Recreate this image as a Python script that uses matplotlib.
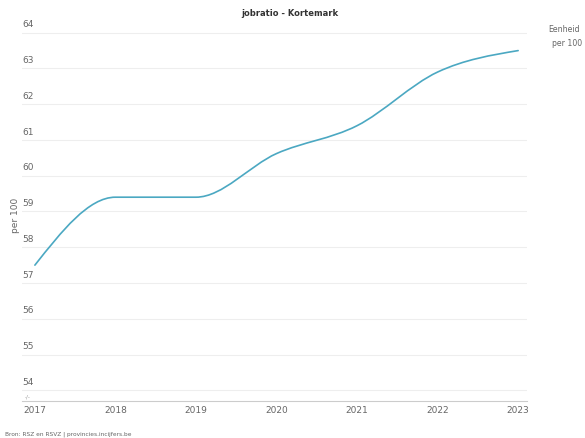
import matplotlib.pyplot as plt
import numpy as np
from matplotlib.path import Path
from matplotlib.patches import PathPatch

# data
years = [2017, 2018, 2019, 2020, 2021, 2022, 2023]
jobratio = [57.5, 59.4, 59.4, 60.62, 61.4, 62.9, 63.5]
y_ticks = [54, 55, 56, 57, 58, 59, 60, 61, 62, 63, 64]

line_color = "#4ba8c2"
grey = "#666666"


def monotone_path(x, y):
    # monotone cubic (d3 curveMonotoneX style) as bezier segments
    x = np.asarray(x, float)
    y = np.asarray(y, float)
    n = len(x)
    h = np.diff(x)
    s = np.diff(y) / h
    t = np.zeros(n)
    for i in range(1, n - 1):
        p = (s[i - 1] * h[i] + s[i] * h[i - 1]) / (h[i - 1] + h[i])
        t[i] = (np.sign(s[i - 1]) + np.sign(s[i])) * min(abs(s[i - 1]), abs(s[i]), 0.5 * abs(p))
    t[0] = (3 * s[0] - t[1]) / 2
    t[-1] = (3 * s[-1] - t[-2]) / 2
    verts = [(x[0], y[0])]
    codes = [Path.MOVETO]
    for i in range(n - 1):
        dx = h[i] / 3
        verts += [(x[i] + dx, y[i] + dx * t[i]), (x[i + 1] - dx, y[i + 1] - dx * t[i + 1]), (x[i + 1], y[i + 1])]
        codes += [Path.CURVE4] * 3
    return Path(verts, codes)


fig = plt.figure(figsize=(5.85, 4.39), dpi=100)
ax = fig.add_axes([22 / 585, 1 - 402 / 439, 505 / 585, 369 / 439])

ax.add_patch(PathPatch(monotone_path(years, jobratio), facecolor="none",
                       edgecolor=line_color, linewidth=1.2, capstyle="round"))

ax.set_xlim(2016.84, 2023.11)
ax.set_ylim(53.7, 64.02)

for v in y_ticks:
    ax.axhline(v, color="#eeeeee", linewidth=0.8, zorder=0)
    ax.text(0.0, v + 0.12, str(v), transform=ax.get_yaxis_transform(),
            fontsize=6.5, color=grey, ha="left", va="bottom")

ax.set_yticks([])
ax.set_xticks(years)
ax.set_xticklabels([str(y) for y in years], fontsize=6.5, color=grey)
ax.tick_params(axis="x", length=0, pad=3)

for side in ["top", "right", "left"]:
    ax.spines[side].set_visible(False)
ax.spines["bottom"].set_color("#cccccc")
ax.spines["bottom"].set_linewidth(0.8)

ax.text(0.005, 53.78, "-/-", transform=ax.get_yaxis_transform(), fontsize=4, color="#999999",
        ha="left", va="bottom")

fig.text(15 / 585, 1 - 215 / 439, "per 100", rotation=90, fontsize=6.5, color=grey,
         ha="center", va="center")
fig.text(290 / 585, 1 - 14 / 439, "jobratio - Kortemark", fontsize=6, fontweight="bold",
         color="#333333", ha="center", va="center")
fig.text(548 / 585, 1 - 30 / 439, "Eenheid", fontsize=5.6, color=grey, ha="left", va="center")
fig.text(582 / 585, 1 - 43 / 439, "per 100", fontsize=5.6, color=grey, ha="right", va="center")
fig.text(5 / 585, 1 - 434 / 439, "Bron: RSZ en RSVZ | provincies.incijfers.be", fontsize=4.2,
         color=grey, ha="left", va="center")

fig.savefig("out.png", dpi=100)
